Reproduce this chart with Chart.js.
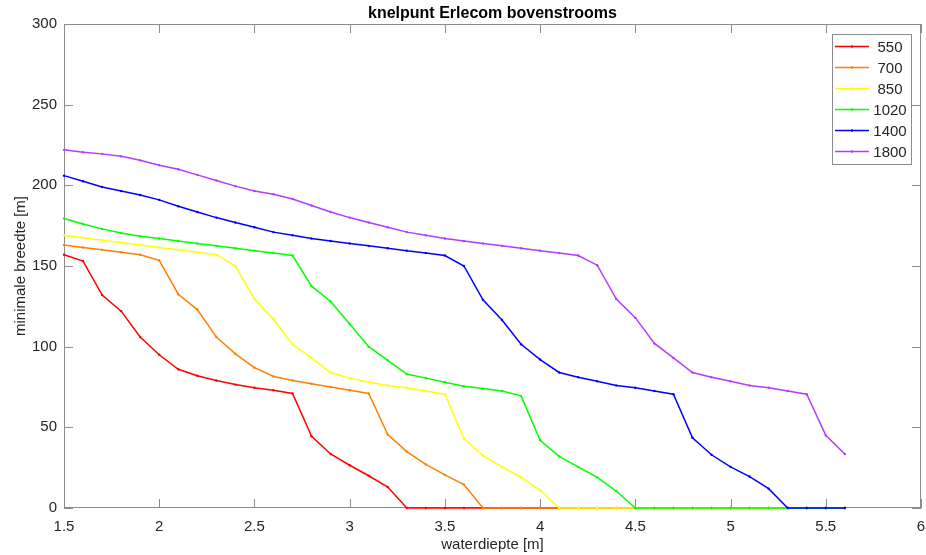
<!DOCTYPE html>
<html>

<head>
    <title>knelpunt Erlecom bovenstrooms</title>
    <style>
        body { margin: 0; background: #fff; }
        #chart-box { width: 926px; height: 555px; }
    </style>
</head>

<body>
    <div id="chart-box">
        <canvas id="lineChart" width="926" height="555"></canvas>
    </div>

    <script src="https://cdn.jsdelivr.net/npm/chart.js"></script>
    <script>
        // waterdiepte [m]
        const depths = [1.5, 1.6, 1.7, 1.8, 1.9, 2.0, 2.1, 2.2, 2.3, 2.4, 2.5, 2.6, 2.7, 2.8, 2.9,
            3.0, 3.1, 3.2, 3.3, 3.4, 3.5, 3.6, 3.7, 3.8, 3.9, 4.0, 4.1, 4.2, 4.3, 4.4,
            4.5, 4.6, 4.7, 4.8, 4.9, 5.0, 5.1, 5.2, 5.3, 5.4, 5.5, 5.6];

        const seriesLabels = ['550', '700', '850', '1020', '1400', '1800'];

        // minimale breedte [m] per series
        const w550 = [157, 153, 132, 122, 106, 95, 86, 82, 79, 76.5, 74.5, 73, 71, 44.5, 33.5,
            26.5, 20, 13, 0, 0, 0, 0, 0, 0, 0, 0, 0, 0, 0, 0,
            0, 0, 0, 0, 0, 0, 0, 0, 0, 0, 0, 0];
        const w700 = [163, 161.5, 160, 158.5, 157, 153.5, 132.5, 123, 106, 95.5, 87, 81.5, 79, 77, 75,
            73, 71, 45.5, 35, 27, 20.5, 14.5, 0, 0, 0, 0, 0, 0, 0, 0,
            0, 0, 0, 0, 0, 0, 0, 0, 0, 0, 0, 0];
        const w850 = [169, 167.5, 166, 164.5, 163, 161.5, 160, 158.5, 157, 150, 129.5, 117, 101.5, 93, 84,
            80.5, 78, 76, 74.5, 72.5, 70.5, 43, 32.5, 25.5, 19, 11, 0, 0, 0, 0,
            0, 0, 0, 0, 0, 0, 0, 0, 0, 0, 0, 0];
        const w1020 = [179.5, 176, 173, 170.5, 168.5, 167, 165.5, 164, 162.5, 161, 159.5, 158, 156.5, 137.5, 128,
            114, 100, 91.5, 83, 80.5, 78, 75.5, 74, 72.5, 69.5, 42, 32, 25.5, 19, 10.5,
            0, 0, 0, 0, 0, 0, 0, 0, 0, 0, 0, 0];
        const w1400 = [206, 202.5, 199, 196.5, 194, 191, 187, 183.5, 180, 177, 174, 171, 169, 167, 165.5,
            164, 162.5, 161, 159.5, 158, 156.5, 150, 129, 116.5, 101.5, 92, 84, 81, 78.5, 76,
            74.5, 72.5, 70.5, 43.5, 33, 25.5, 19.5, 12, 0, 0, 0, 0];
        const w1800 = [222, 220.5, 219.5, 218, 215.5, 212.5, 210, 206.5, 203, 199.5, 196.5, 194.5, 191.5, 187.5, 183.5,
            180, 177, 174, 171, 169, 167, 165.5, 164, 162.5, 161, 159.5, 158, 156.5, 150.5, 129.5,
            118, 102, 93, 84, 81, 78.5, 76, 74.5, 72.5, 70.5, 45, 33.5];

        const seriesValues = [w550, w700, w850, w1020, w1400, w1800];
        const seriesColors = ['#ff0000', '#ff8000', '#ffff00', '#00ff00', '#0000ff', '#b23cff'];

        const xTicks = [1.5, 2, 2.5, 3, 3.5, 4, 4.5, 5, 5.5, 6];
        const yTicks = [0, 50, 100, 150, 200, 250, 300];

        const axisColor = '#8c8c8c';
        const textColor = '#262626';
        const fontFamily = '"Liberation Sans", Arial, Helvetica, sans-serif';

        const datasets = seriesValues.map((values, i) => ({
            label: seriesLabels[i],
            data: depths.map((d, j) => ({ x: d, y: values[j] })),
            borderColor: seriesColors[i],
            backgroundColor: seriesColors[i],
            borderWidth: 1.5,
            pointRadius: 1.2,
            pointBorderWidth: 0,
            pointBackgroundColor: seriesColors[i],
            tension: 0,
            clip: 4,
            // later series on top, like matlab's plot order
            order: seriesValues.length - i,
        }));

        // box round the plot with inward ticks, MATLAB style
        const axesBox = {
            id: 'axesBox',
            beforeDatasetsDraw(chart) {
                const { ctx, chartArea: a, scales } = chart;
                const len = 9;
                ctx.save();
                ctx.strokeStyle = axisColor;
                ctx.lineWidth = 1;
                ctx.strokeRect(a.left + 0.5, a.top + 0.5, a.right - a.left - 1, a.bottom - a.top - 1);
                ctx.beginPath();
                xTicks.forEach((v) => {
                    const px = Math.round(scales.x.getPixelForValue(v)) + 0.5;
                    ctx.moveTo(px, a.bottom); ctx.lineTo(px, a.bottom - len);
                    ctx.moveTo(px, a.top); ctx.lineTo(px, a.top + len);
                });
                yTicks.forEach((v) => {
                    const py = Math.round(scales.y.getPixelForValue(v)) + 0.5;
                    ctx.moveTo(a.left, py); ctx.lineTo(a.left + len, py);
                    ctx.moveTo(a.right, py); ctx.lineTo(a.right - len, py);
                });
                ctx.stroke();
                ctx.restore();
            },
        };

        const titleAndLegend = {
            id: 'titleAndLegend',
            afterDraw(chart) {
                const { ctx, chartArea: a } = chart;
                ctx.save();
                // title
                ctx.fillStyle = '#000';
                ctx.font = 'bold 16px ' + fontFamily;
                ctx.textAlign = 'center';
                ctx.textBaseline = 'middle';
                ctx.fillText('knelpunt Erlecom bovenstrooms', (a.left + a.right) / 2, 14);

                // legend
                const bx = 832, by = 34, bw = 79, bh = 130;
                ctx.fillStyle = '#fff';
                ctx.fillRect(bx, by, bw, bh);
                ctx.strokeStyle = axisColor;
                ctx.lineWidth = 1;
                ctx.strokeRect(bx + 0.5, by + 0.5, bw, bh);
                ctx.font = '15px ' + fontFamily;
                chart.data.datasets.forEach((ds, i) => {
                    const y = by + 12.5 + i * 21;
                    ctx.strokeStyle = ds.borderColor;
                    ctx.lineWidth = 1.5;
                    ctx.beginPath();
                    ctx.moveTo(bx + 3, y);
                    ctx.lineTo(bx + 37, y);
                    ctx.stroke();
                    ctx.fillStyle = ds.borderColor;
                    ctx.beginPath();
                    ctx.arc(bx + 20, y, 1.2, 0, Math.PI * 2);
                    ctx.fill();
                    ctx.fillStyle = textColor;
                    ctx.textAlign = 'center';
                    ctx.fillText(ds.label, bx + 58, y + 1);
                });
                ctx.restore();
            },
        };

        const canvas = document.getElementById('lineChart');
        const chart = new Chart(canvas, {
            type: 'line',
            data: { datasets: datasets },
            options: {
                responsive: false,
                animation: false,
                layout: { padding: { top: 24, right: 5, left: 0, bottom: 0 } },
                plugins: {
                    legend: { display: false },
                    title: { display: false },
                    tooltip: { enabled: false },
                },
                scales: {
                    x: {
                        type: 'linear',
                        min: 1.5,
                        max: 6,
                        afterBuildTicks: (scale) => { scale.ticks = xTicks.map((v) => ({ value: v })); },
                        afterFit: (scale) => {
                            scale.height = 47;
                            scale.paddingLeft = 0;
                            scale.paddingRight = 0;
                        },
                        grid: { display: false, drawTicks: false },
                        border: { display: false },
                        ticks: {
                            color: textColor,
                            font: { family: fontFamily, size: 15 },
                            padding: 10,
                            maxRotation: 0,
                            callback: (v) => String(v),
                        },
                        title: {
                            display: true,
                            text: 'waterdiepte [m]',
                            color: textColor,
                            font: { family: fontFamily, size: 15 },
                            padding: { top: 0, bottom: 1 },
                        },
                    },
                    y: {
                        min: 0,
                        max: 300,
                        afterBuildTicks: (scale) => { scale.ticks = yTicks.map((v) => ({ value: v })); },
                        afterFit: (scale) => {
                            scale.width = 64;
                            scale.paddingTop = 0;
                            scale.paddingBottom = 0;
                        },
                        grid: { display: false, drawTicks: false },
                        border: { display: false },
                        ticks: {
                            color: textColor,
                            font: { family: fontFamily, size: 15 },
                            padding: 7,
                            callback: (v) => String(v),
                        },
                        title: {
                            display: true,
                            text: 'minimale breedte [m]',
                            color: textColor,
                            font: { family: fontFamily, size: 15 },
                            padding: { top: 12, bottom: 0 },
                        },
                    },
                },
            },
            plugins: [axesBox, titleAndLegend],
        });
    </script>
</body>

</html>
